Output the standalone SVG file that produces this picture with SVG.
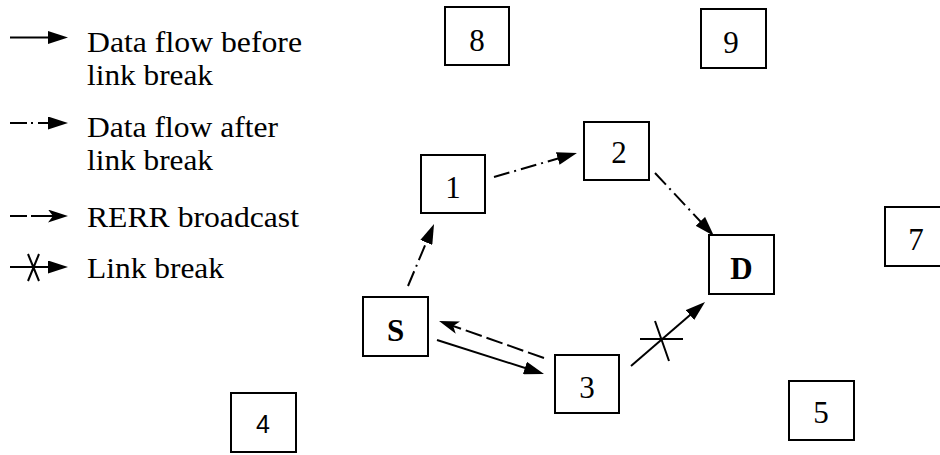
<svg xmlns="http://www.w3.org/2000/svg" width="940" height="455" viewBox="0 0 940 455">
  <style>
    .box { fill: #fff; stroke: #000; stroke-width: 2; }
    .lbl { font-family: "Liberation Serif", "Times New Roman", Times, serif; font-size: 31px; text-anchor: middle; fill: #000; }
    .bold { font-weight: bold; }
    .sans { font-family: "Liberation Sans", Arial, sans-serif; font-size: 25px; }
    .leg { font-family: "Liberation Serif", "Times New Roman", Times, serif; font-size: 30px; fill: #000; }
    .ln { fill: none; stroke: #000; stroke-width: 2; }
    .dashdot { stroke-dasharray: 16 5 2 5; }
    .dash { stroke-dasharray: 17 5; }
  </style>
  <defs>
    <marker id="head" markerUnits="userSpaceOnUse" markerWidth="20" markerHeight="13" viewBox="0 0 20 13" refX="14" refY="6.5" orient="auto">
      <path d="M0,0 L20,6.5 L0,13 z" fill="#000"/>
    </marker>
    <marker id="barb" markerUnits="userSpaceOnUse" markerWidth="20" markerHeight="13" viewBox="0 0 20 13" refX="14" refY="6.5" orient="auto">
      <path d="M0,0 L20,6.5 L0,13 L5,6.5 z" fill="#000"/>
    </marker>
  </defs>

  <!-- legend -->
  <g id="legend">
    <line class="ln" x1="10" y1="37.5" x2="62" y2="37.5" marker-end="url(#head)"/>
    <line class="ln" x1="10" y1="123" x2="27" y2="123"/>
    <line class="ln" x1="31" y1="123" x2="33" y2="123"/>
    <line class="ln" x1="38" y1="123" x2="62" y2="123" marker-end="url(#head)"/>
    <line class="ln" x1="10" y1="216" x2="27" y2="216"/>
    <line class="ln" x1="31" y1="216" x2="62" y2="216" marker-end="url(#barb)"/>
    <line class="ln" x1="10" y1="267" x2="62" y2="267" marker-end="url(#head)"/>
    <path class="ln" d="M28,254 L39,281 M39,254 L28,281"/>
    <text class="leg" x="87" y="52" textLength="215" lengthAdjust="spacingAndGlyphs">Data flow before</text>
    <text class="leg" x="87" y="85" textLength="126" lengthAdjust="spacingAndGlyphs">link break</text>
    <text class="leg" x="87" y="137" textLength="191" lengthAdjust="spacingAndGlyphs">Data flow after</text>
    <text class="leg" x="87" y="170" textLength="126" lengthAdjust="spacingAndGlyphs">link break</text>
    <text class="leg" x="87" y="227" textLength="212" lengthAdjust="spacingAndGlyphs">RERR broadcast</text>
    <text class="leg" x="87" y="278" textLength="137" lengthAdjust="spacingAndGlyphs">Link break</text>
  </g>

  <!-- nodes -->
  <g id="node-8"><rect class="box" x="445" y="7" width="64" height="58"/><text class="lbl" x="477" y="51">8</text></g>
  <g id="node-9"><rect class="box" x="701" y="9" width="65" height="59"/><text class="lbl" x="731" y="53">9</text></g>
  <g id="node-2"><rect class="box" x="584" y="122" width="65" height="58"/><text class="lbl" x="619" y="163">2</text></g>
  <g id="node-1"><rect class="box" x="421" y="155" width="64" height="58"/><text class="lbl" x="453" y="198">1</text></g>
  <g id="node-S"><rect class="box" x="363" y="297" width="65" height="59"/><text class="lbl bold" x="395.5" y="341">S</text></g>
  <g id="node-3"><rect class="box" x="555" y="355" width="64" height="58"/><text class="lbl" x="587" y="398">3</text></g>
  <g id="node-D"><rect class="box" x="709" y="235" width="65" height="59"/><text class="lbl bold" x="741.5" y="279">D</text></g>
  <g id="node-7"><rect class="box" x="885" y="207" width="65" height="59"/><text class="lbl" x="916" y="250">7</text></g>
  <g id="node-5"><rect class="box" x="789" y="381" width="65" height="59"/><text class="lbl" x="821" y="423">5</text></g>
  <g id="node-4"><rect class="box" x="231" y="393" width="65" height="59"/><text class="lbl sans" x="263" y="433">4</text></g>

  <!-- connectors -->
  <g id="connectors">
    <line class="ln dashdot" x1="408" y1="286" x2="431.7" y2="229.5" marker-end="url(#head)"/>
    <line class="ln dashdot" x1="494" y1="177" x2="571.2" y2="154.7" marker-end="url(#head)"/>
    <line class="ln dashdot" x1="655" y1="173" x2="709.9" y2="231.6" marker-end="url(#head)"/>
    <line class="ln" x1="437" y1="340" x2="538.3" y2="372.2" marker-end="url(#head)"/>
    <line class="ln dash" x1="544" y1="358" x2="444.7" y2="323" marker-end="url(#barb)"/>
    <line class="ln" x1="631" y1="366" x2="700.5" y2="305.9" marker-end="url(#head)"/>
    <path class="ln" d="M640,339 L683,339 M655,321 L669,361"/>
  </g>
</svg>
